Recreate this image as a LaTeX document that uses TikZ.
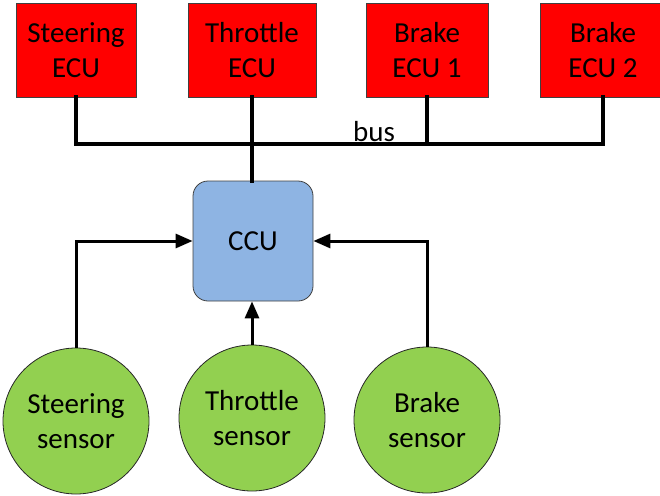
\documentclass[tikz,border=0pt]{standalone}
\usepackage{fontspec}
\setmainfont{Carlito}
\usetikzlibrary{arrows.meta}
\definecolor{ecured}{HTML}{FF0000}
\definecolor{ccublue}{HTML}{8EB4E3}
\definecolor{sengreen}{HTML}{92D050}
\begin{document}
\begin{tikzpicture}[x=1pt,y=-1pt,
  every node/.style={font=\fontsize{29}{35}\selectfont, align=center, inner sep=0pt},
  ecu/.style={draw=black!75, line width=0.8pt, fill=ecured, minimum height=94pt},
  ccubox/.style={draw=black!75, line width=0.8pt, fill=ccublue, minimum width=120pt, minimum height=120pt, rounded corners=15pt},
  sensor/.style={circle, draw=black!85, line width=0.8pt, fill=sengreen, minimum size=146pt},
  busline/.style={line width=4.5pt, line join=miter, line cap=rect},
  arr/.style={line width=3pt, -{Triangle[length=17pt,width=14pt]}}]
\useasboundingbox (0,0) rectangle (660,495);
\node[ecu, minimum width=120pt] (secu) at (76,50) {Steering\\ECU};
\node[ecu, minimum width=128pt] (tecu) at (252,50) {Throttle\\ECU};
\node[ecu, minimum width=122pt] (becu1) at (427,50) {Brake\\ECU 1};
\node[ecu, minimum width=126pt] (becu2) at (603,50) {Brake\\ECU 2};
\node[ccubox] (ccu) at (253,241) {CCU};
\node[sensor] (ssen) at (76,421) {Steering\\sensor};
\node[sensor] (tsen) at (252,418) {Throttle\\sensor};
\node[sensor] (bsen) at (427,420) {Brake\\sensor};
\coordinate (busL) at (76,144);
\coordinate (busR) at (603,144);
\draw[busline] (secu.south) -- (busL) -- (busR) -- (becu2.south);
\draw[busline] (becu1.south) -- (becu1.south |- busL);
\draw[busline] (tecu.south) -- (tecu.south |- ccu.north);
\node[anchor=base] (buslbl) at (374,141) {bus};
\draw[arr] (ssen.north) |- (ccu.west);
\draw[arr] (bsen.north) |- (ccu.east);
\draw[arr] (tsen.north) -- (tsen.north |- ccu.south);
\end{tikzpicture}
\end{document}
